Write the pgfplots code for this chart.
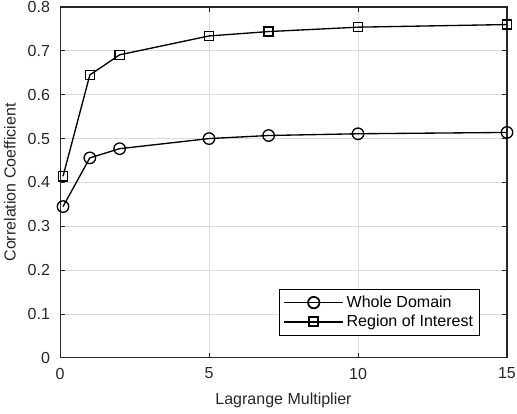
\documentclass[border=0pt]{standalone}
\usepackage{pgfplots}
\pgfplotsset{compat=1.18}
\usepackage{fontspec}
\setmainfont{Liberation Sans}
\definecolor{txt}{RGB}{38,38,38}
\definecolor{gridc}{RGB}{220,220,220}
\begin{document}
\begin{tikzpicture}
\begin{axis}[
  name=ax,
  scale only axis,
  width=335pt, height=263pt,
  xmin=0, xmax=15, ymin=0, ymax=0.8,
  xtick={0,5,10,15},
  ytick={0,0.1,...,0.8},
  yticklabel style={/pgf/number format/fixed,/pgf/number format/precision=1, xshift=-4pt},
  xticklabel style={yshift=-4pt},
  /pgf/number format/assume math mode=true,
  tick align=inside,
  major tick length=4pt,
  xmajorgrids, ymajorgrids,
  grid style={gridc, line width=0.7pt},
  axis line style={txt, line width=0.8pt},
  tick style={txt, line width=0.7pt},
  ticklabel style={font=\fontsize{12}{14}\selectfont, text=txt},
  label style={font=\fontsize{12}{14}\selectfont, text=txt},
  xlabel={Lagrange Multiplier},
  ylabel={Correlation Coefficient},
  xlabel style={yshift=-3pt},
  ylabel style={yshift=2pt},
  legend style={font=\fontsize{12}{14}\selectfont, text=black, draw=black, line width=0.9pt,
    at={(rel axis cs:1,0)}, xshift=-20pt, yshift=16.5pt, anchor=south east, inner xsep=3pt, inner ysep=3pt, row sep=0.2pt},
  legend cell align=left,
  legend image code/.code={
    \draw[line width=1.3pt, mark repeat=2,mark phase=2] plot coordinates {(0pt,0pt) (22pt,0pt) (44pt,0pt)};
  },
  clip=false,
]
\addplot[black, line width=1pt, mark=o, mark size=4.3pt]
 coordinates {(0.1,0.345) (1,0.456) (2,0.477) (5,0.500) (7,0.507) (10,0.511) (15,0.514)};
\addlegendentry{Whole Domain}
\addplot[black, line width=1pt, mark=square, mark size=3.4pt]
 coordinates {(0.1,0.414) (1,0.645) (2,0.691) (5,0.734) (7,0.744) (10,0.754) (15,0.760)};
\addlegendentry{Region of Interest}
\end{axis}
\pgfresetboundingbox
\path ([shift={(-45pt,-42pt)}]ax.south west) rectangle ([shift={(7.5pt,5.25pt)}]ax.north east);
\end{tikzpicture}
\end{document}
